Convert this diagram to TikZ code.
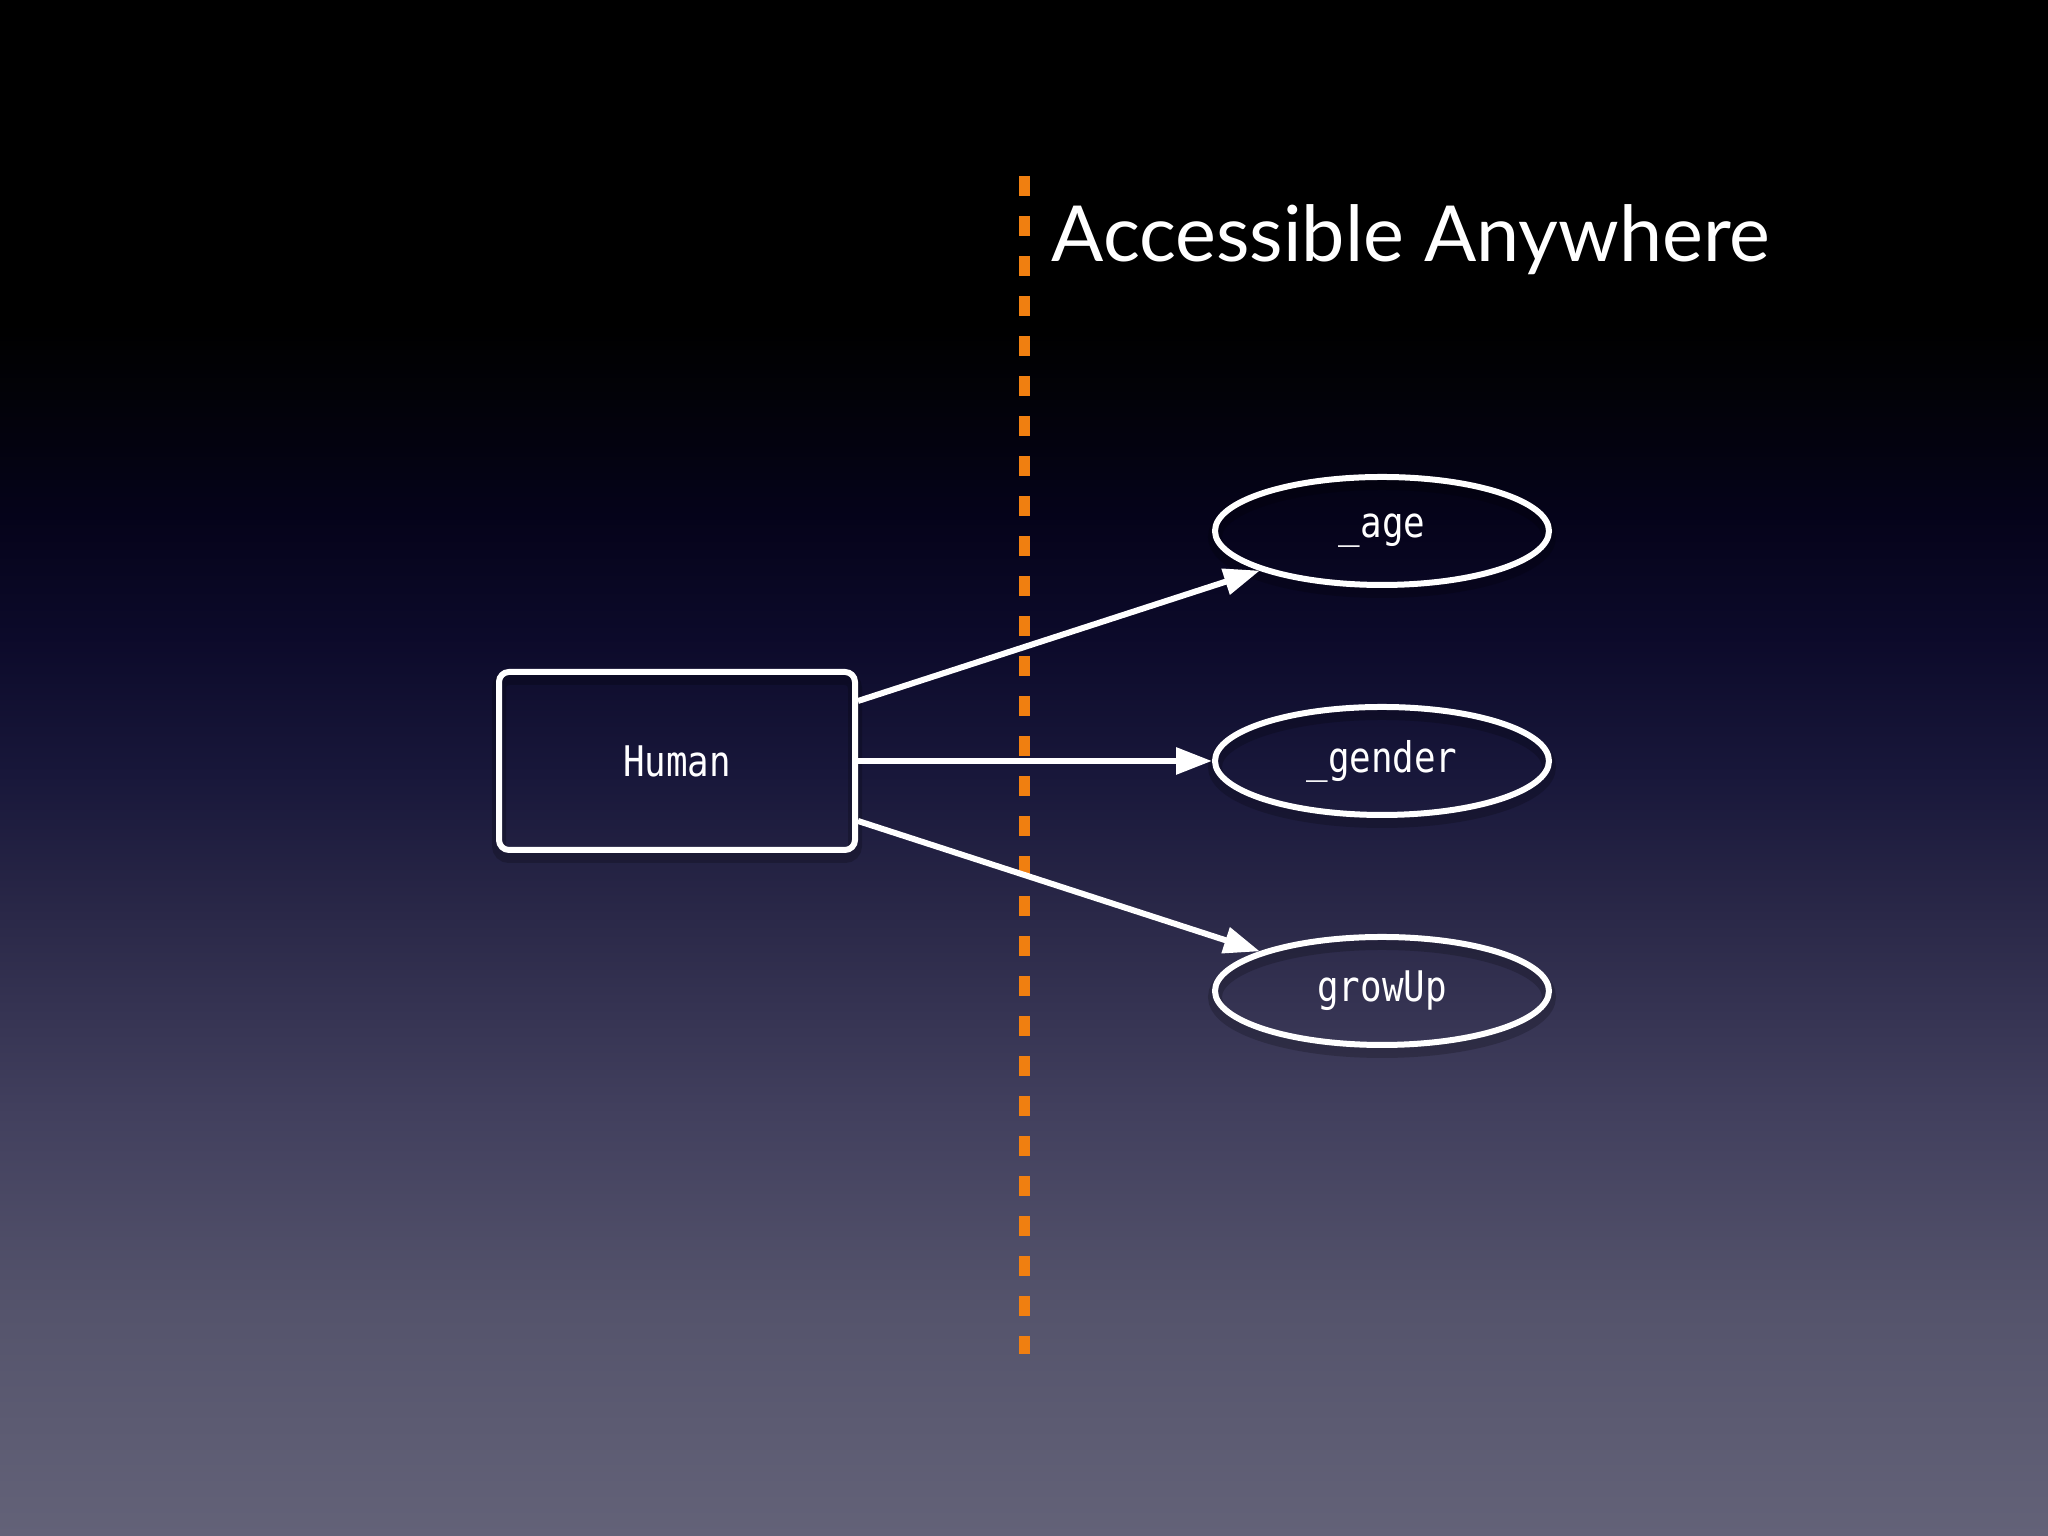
\documentclass[tikz,border=0pt]{standalone}
\usepackage{fontspec}
\setmainfont{Lato}
\newfontfamily\codefont[FakeStretch=0.85]{DejaVu Sans Mono}
\usetikzlibrary{arrows.meta,shapes.geometric}

\definecolor{bg0}{HTML}{636278}
\definecolor{bg1}{HTML}{55546C}
\definecolor{bg2}{HTML}{42405E}
\definecolor{bg3}{HTML}{2A2848}
\definecolor{bg4}{HTML}{18173A}
\definecolor{bg5}{HTML}{0C0A2A}
\definecolor{bg6}{HTML}{05031A}
\definecolor{bg7}{HTML}{020208}
\definecolor{lineorange}{HTML}{F07F10}

% slide background, dark at the top
\pgfdeclareverticalshading{slidebg}{100bp}{color(0bp)=(bg0); color(25bp)=(bg0);
  color(32.2bp)=(bg1); color(38.7bp)=(bg2); color(45.2bp)=(bg3);
  color(49.8bp)=(bg4); color(54.3bp)=(bg5); color(58.2bp)=(bg6);
  color(62.1bp)=(bg7); color(64.5bp)=(black); color(100bp)=(black)}

\begin{document}
\begin{tikzpicture}[
    glow/.style={preaction={draw=black, opacity=0.2, line width=1.4mm,
      transform canvas={yshift=-0.6mm}}},
    box/.style={glow, draw=white, line width=0.6mm, rounded corners=1mm,
      minimum width=3.56cm, minimum height=1.78cm, text=white,
      font=\codefont\fontsize{12}{14}\selectfont},
    field/.style={glow, ellipse, draw=white, line width=0.6mm, inner sep=0pt,
      minimum width=3.34cm, minimum height=1.08cm, text=white,
      font=\codefont\fontsize{12}{14}\selectfont},
    link/.style={draw=white, line width=0.6mm,
      -{Triangle[length=3.6mm,width=2.6mm]}},
    divider/.style={draw=lineorange, line width=1.1mm,
      dash pattern=on 2mm off 2mm}
  ]
  \shade[shading=slidebg] (0,0) rectangle (20.48,15.36);
  \useasboundingbox (0,0) rectangle (20.48,15.36);

  \coordinate (divtop) at (10.24,13.60);
  \coordinate (divbot) at (10.24,1.82);
  \draw[divider] (divtop) -- (divbot);

  \node[anchor=base west, inner sep=0pt, text=white,
    font=\fontsize{22}{26}\selectfont] (title) at (10.51,12.74)
    {Accessible Anywhere};

  \node[box] (human) at (6.77,7.75) {Human};
  \node[field] (age) at (13.82,10.05) {\_age};
  \node[field] (gender) at (13.82,7.75) {\_gender};
  \node[field] (growup) at (13.82,5.45) {growUp};

  \begin{scope}[link]
    \draw ([yshift=6mm]human.east) -- (age);
    \draw (human.east) -- (gender);
    \draw ([yshift=-6mm]human.east) -- (growup);
  \end{scope}
\end{tikzpicture}
\end{document}
